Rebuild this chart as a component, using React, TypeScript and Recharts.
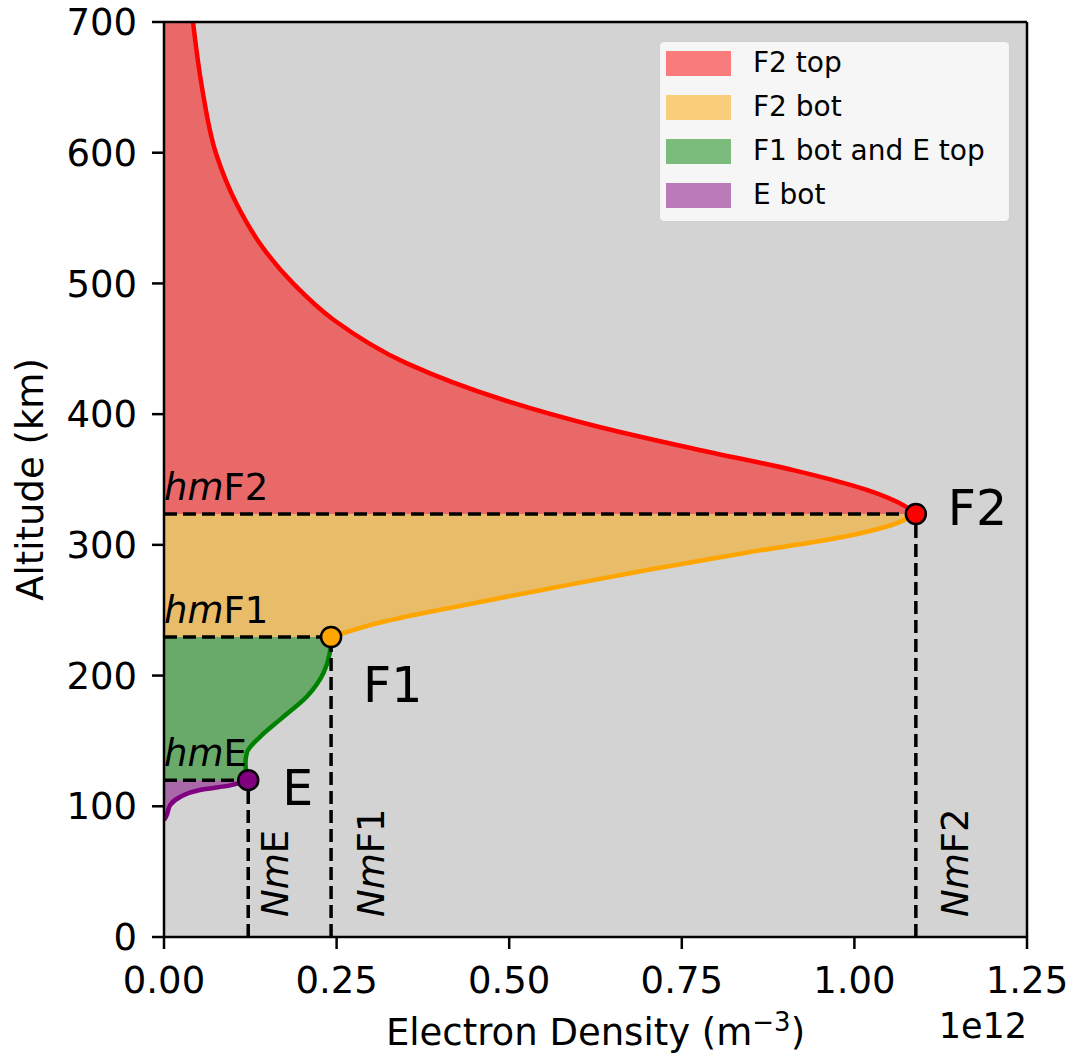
import React from 'react';
import {
  ComposedChart,
  Area,
  XAxis,
  YAxis,
  CartesianGrid,
  ReferenceLine,
  ReferenceDot,
  Legend,
} from 'recharts';

const FONT = '"DejaVu Sans", sans-serif';

// Electron density in units of 1e12 m^-3, altitude in km
const f2TopAlt = [323.6, 330, 342, 357, 373, 390, 411, 439, 472, 500, 526, 560, 600, 650, 700];
const f2TopNe = [1.089, 1.072, 1.018, 0.913, 0.772, 0.632, 0.491, 0.351, 0.246, 0.187, 0.145, 0.106, 0.075, 0.055, 0.042];

const f2BotAlt = [229.5, 241, 252.5, 267, 281, 294, 306, 315, 323.6];
const f2BotNe = [0.242, 0.316, 0.421, 0.562, 0.702, 0.843, 0.983, 1.053, 1.089];

const f1BotAlt = [120, 133, 141, 153, 168, 184, 202, 217, 229.5];
const f1BotNe = [0.122, 0.118, 0.12, 0.139, 0.172, 0.207, 0.231, 0.24, 0.242];

const eBotAlt = [89.5, 92, 101, 107, 112.5, 116, 120];
const eBotNe = [0, 0.003, 0.009, 0.023, 0.052, 0.096, 0.122];

const peakNames = ['F2', 'F1', 'E'];
const peakNm = [1.089, 0.242, 0.122];
const peakHm = [323.6, 229.5, 120];
const peakColors = ['#ff0000', '#ffa500', '#800080'];

const xTicks = [0, 0.25, 0.5, 0.75, 1.0, 1.25];
const yTicks = [0, 100, 200, 300, 400, 500, 600, 700];

const legendLabels = ['F2 top', 'F2 bot', 'F1 bot and E top', 'E bot'];
const legendColors = ['#fa7b7b', '#facd7b', '#7bbb7b', '#bb7bbb'];

// build table for the chart
const rowsMap = new Map<number, any>();
function addSeries(alts: number[], vals: number[], key: string) {
  alts.forEach((a, i) => {
    const r = rowsMap.get(a) || { alt: a, top: null, bot: null, f1: null, ebot: null };
    r[key] = vals[i];
    rowsMap.set(a, r);
  });
}
addSeries(f2TopAlt, f2TopNe, 'top');
addSeries(f2BotAlt, f2BotNe, 'bot');
addSeries(f1BotAlt, f1BotNe, 'f1');
addSeries(eBotAlt, eBotNe, 'ebot');
const tableData = Array.from(rowsMap.values()).sort((a, b) => a.alt - b.alt);

const peakLabelOffsets = [
  { dx: 32, dy: 11 },
  { dx: 32, dy: 65 },
  { dx: 34, dy: 25 },
];
const nmOffsets = [52, 53, 40];

const DotLabel = (props: any) => {
  const { viewBox, text, dx, dy } = props;
  const cx = viewBox.x + viewBox.width / 2;
  const cy = viewBox.y + viewBox.height / 2;
  return (
    <text x={cx + dx} y={cy + dy} fontSize={49} fontFamily={FONT} fill="#000">
      {text}
    </text>
  );
};

const HmLabel = (props: any) => {
  const { viewBox, name } = props;
  return (
    <text x={viewBox.x} y={viewBox.y - 14} fontSize={37} fontFamily={FONT} fill="#000">
      <tspan fontStyle="italic">hm</tspan>
      <tspan>{name}</tspan>
    </text>
  );
};

const NmLabel = (props: any) => {
  const { viewBox, name, off } = props;
  const x = viewBox.x + off;
  const y = viewBox.y + viewBox.height - 20;
  return (
    <text
      x={x}
      y={y}
      fontSize={37}
      fontFamily={FONT}
      fill="#000"
      textAnchor="start"
      transform={`rotate(-90, ${x}, ${y})`}
    >
      <tspan fontStyle="italic">Nm</tspan>
      <tspan>{name}</tspan>
    </text>
  );
};

const XLabel = (props: any) => {
  const { viewBox } = props;
  const cx = viewBox.x + viewBox.width / 2;
  return (
    <g>
      <text x={cx} y={1045} fontSize={37} fontFamily={FONT} fill="#000" textAnchor="middle">
        Electron Density (m
        <tspan fontSize={26} dy={-14}>−3</tspan>
        <tspan dy={14}>)</tspan>
      </text>
      <text x={viewBox.x + viewBox.width} y={1038} fontSize={35} fontFamily={FONT} fill="#000" textAnchor="end">
        1e12
      </text>
    </g>
  );
};

const YLabel = (props: any) => {
  const { viewBox } = props;
  const cy = viewBox.y + viewBox.height / 2;
  const x = 43;
  return (
    <text
      x={x}
      y={cy}
      fontSize={37}
      fontFamily={FONT}
      fill="#000"
      textAnchor="middle"
      transform={`rotate(-90, ${x}, ${cy})`}
    >
      Altitude (km)
    </text>
  );
};

const LegendBox = () => (
  <div
    style={{
      width: 351,
      height: 181,
      boxSizing: 'border-box',
      background: '#f6f6f6',
      border: '1.5px solid #cfcfcf',
      borderRadius: 5,
      fontFamily: FONT,
      fontSize: 28,
      color: '#000',
      position: 'relative',
    }}
  >
    {legendLabels.map((l, i) => (
      <div
        key={l}
        style={{ position: 'absolute', left: 6, top: 8 + i * 44, height: 26, display: 'flex', alignItems: 'center' }}
      >
        <div style={{ width: 65, height: 25, background: legendColors[i] }} />
        <div style={{ marginLeft: 22, lineHeight: '26px', whiteSpace: 'nowrap' }}>{l}</div>
      </div>
    ))}
  </div>
);

const areaCommon = {
  type: 'monotone' as const,
  strokeWidth: 4.5,
  fillOpacity: 0.5,
  isAnimationActive: false,
  dot: false,
  activeDot: false,
};

export default function App() {
  return (
    <div style={{ position: 'absolute', left: 0, top: 0, width: 1071, height: 1055, background: '#fff' }}>
      <ComposedChart
        width={1071}
        height={1055}
        data={tableData}
        layout="vertical"
        margin={{ top: 22, right: 44, left: 0, bottom: 0 }}
      >
        <CartesianGrid fill="#d3d3d3" horizontal={false} vertical={false} stroke="none" />
        <XAxis
          type="number"
          domain={[0, 1.25]}
          ticks={xTicks}
          allowDataOverflow
          height={118}
          tickFormatter={(v: number) => v.toFixed(2)}
          tick={{ fontSize: 37, fill: '#000', fontFamily: FONT }}
          tickSize={12}
          tickMargin={18}
          axisLine={{ stroke: '#000', strokeWidth: 2.5 }}
          tickLine={{ stroke: '#000', strokeWidth: 2.5 }}
          label={(p: any) => <XLabel {...p} />}
        />
        <YAxis
          type="number"
          dataKey="alt"
          domain={[0, 700]}
          ticks={yTicks}
          reversed
          allowDataOverflow
          width={164}
          tick={{ fontSize: 37, fill: '#000', fontFamily: FONT }}
          tickSize={12}
          tickMargin={15}
          axisLine={{ stroke: '#000', strokeWidth: 2.5 }}
          tickLine={{ stroke: '#000', strokeWidth: 2.5 }}
          label={(p: any) => <YLabel {...p} />}
        />
        <Area dataKey="top" stroke="#ff0000" fill="#ff0000" {...areaCommon} />
        <Area dataKey="bot" stroke="#ffa500" fill="#ffa500" {...areaCommon} />
        <Area dataKey="f1" stroke="#008000" fill="#008000" {...areaCommon} />
        <Area dataKey="ebot" stroke="#800080" fill="#800080" {...areaCommon} />
        <ReferenceLine y={700} stroke="#000" strokeWidth={2.5} />
        <ReferenceLine x={1.25} stroke="#000" strokeWidth={2.5} />
        {peakNames.map((n, i) => (
          <ReferenceLine
            key={'h' + n}
            segment={[
              { x: 0, y: peakHm[i] },
              { x: peakNm[i], y: peakHm[i] },
            ]}
            stroke="#000"
            strokeWidth={3.5}
            strokeDasharray="13 6"
            label={<HmLabel name={n} />}
          />
        ))}
        {peakNames.map((n, i) => (
          <ReferenceLine
            key={'v' + n}
            segment={[
              { x: peakNm[i], y: 0 },
              { x: peakNm[i], y: peakHm[i] },
            ]}
            stroke="#000"
            strokeWidth={3.5}
            strokeDasharray="13 6"
            label={<NmLabel name={n} off={nmOffsets[i]} />}
          />
        ))}
        {peakNames.map((n, i) => (
          <ReferenceDot
            key={'d' + n}
            x={peakNm[i]}
            y={peakHm[i]}
            r={10}
            fill={peakColors[i]}
            stroke="#000"
            strokeWidth={2.5}
            label={<DotLabel text={n} dx={peakLabelOffsets[i].dx} dy={peakLabelOffsets[i].dy} />}
          />
        ))}
        <Legend
          layout="horizontal"
          verticalAlign="middle"
          align="center"
          wrapperStyle={{ position: 'absolute', left: 659, top: 41, width: 351, height: 181 }}
          content={() => <LegendBox />}
        />
      </ComposedChart>
    </div>
  );
}
